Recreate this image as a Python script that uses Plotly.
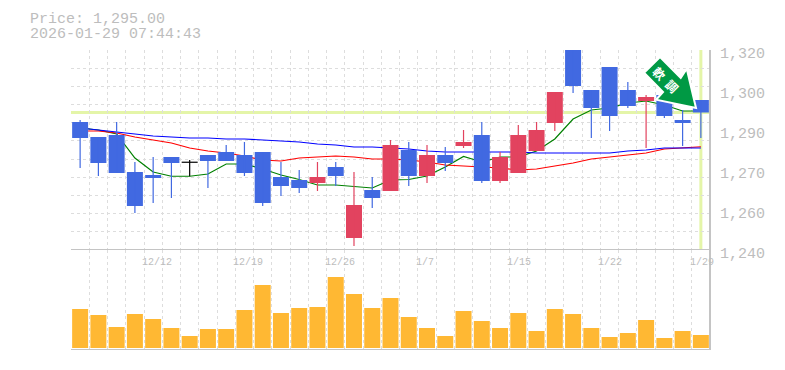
import plotly.graph_objects as go

# Candles (price units). Index 6 is the black doji.
opens  = [1291.2,1285.2,1286,1271.2,1270,1277.2,1275.1,1278,1279.2,1278,1279.2,1269.2,
          1268,1266.8,1273.2,1244.8,1264,1263.6,1280,1269.6,1278,1281.6,1286,1267.6,
          1270.8,1279.6,1290.8,1322,1304,1313.2,1304,1299.6,1302,1292,1300]
closes = [1284.8,1274.8,1270.8,1257.6,1268.8,1274.8,1275.1,1275.6,1275.6,1270.8,1258.8,1265.6,
          1264.8,1269.2,1269.6,1258,1260.8,1282,1269.6,1278,1274.8,1283.2,1267.6,1277.2,
          1286,1288,1303.2,1305.6,1296.8,1293.6,1297.6,1301.2,1293.6,1290.8,1295]
highs  = [1292,1285.2,1291.2,1275.2,1277.2,1277.2,1276,1278,1282,1283.2,1279.2,1275.2,
          1272,1275.2,1275.2,1271.2,1269.2,1284,1283.2,1282,1281.2,1288,1291.2,1279.2,
          1290,1291.2,1303.2,1322,1304,1313.2,1307.2,1302,1302,1296,1300]
lows   = [1272.8,1269.6,1270.8,1254.8,1258.8,1260.8,1269.5,1264.8,1275.6,1269.6,1257.6,1261.6,
          1262.8,1263.6,1265.6,1241.6,1256.8,1263.6,1265.6,1266.8,1271.6,1280.8,1266.8,1266.8,
          1270.8,1279.6,1287.6,1302.8,1284.8,1287.6,1296.8,1280.8,1292.8,1281.6,1284.8]
doji_index = 6

ma_short = [1288.8,1288,1286.4,1276.8,1271.2,1269.5,1269.5,1270.4,1274.4,1274.4,1272.4,1270,
            1268.2,1266,1266,1265.3,1264.8,1268,1268.2,1269.6,1273.2,1277.4,1275.2,1277.2,
            1277.2,1279.6,1284.4,1292.4,1296,1296.8,1298.8,1299.6,1298,1295.6,1295.6]
ma_mid   = [1287.6,1287.6,1286.8,1285.2,1284,1282.8,1280.8,1279.6,1278.8,1277.6,1276,1275.6,
            1276.8,1277.2,1277.6,1277.2,1276.4,1276.4,1276,1275.2,1274,1273.6,1273.2,1272.8,
            1272,1272.4,1273.6,1274.8,1276.4,1277.2,1278,1278.8,1280.4,1280.8,1281.3]
ma_long  = [1288.8,1288,1287.2,1286.4,1285.6,1285.2,1284.8,1284.8,1284.4,1284.4,1284,1283.6,
            1283.2,1282.4,1282,1281.2,1281.2,1280.8,1280.4,1279.6,1279.2,1279.2,1279.2,1279.2,
            1279.2,1278.8,1278.8,1278.8,1278.8,1278.8,1279.6,1280,1280.8,1280.8,1280.8]
volumes  = [39,33,21,34,29,20,12,19,19,38,63,35,40,41,71,54,40,50,31,20,12,37,27,20,35,17,39,34,20,11,15,28,10,17,13]

date_tick_index = [4,9,14,19,24,29,34]
date_tick_text  = ["12/12","12/19","12/26","1/7","1/15","1/22","1/29"]
price_tick_vals = [1320,1304,1288,1272,1256,1240]
price_tick_text = ["1,320","1,300","1,290","1,270","1,260","1,240"]
title_lines = ["Price: 1,295.00","2026-01-29 07:44:43"]
last_price = 1295.00
arrow_label = "<b>軟\u2002調</b>"

BLUE, RED = "#4169E1", "#E2435F"
GRID, AXIS, LABEL = "#DDDDDD", "#C4C4C4", "#BDBDBD"
HILITE = "#E4F5A8"
MONO = "Liberation Mono"
xs = list(range(len(opens)))

fig = go.Figure()
for vals, col in ((ma_short,"#008000"),(ma_mid,"#FF0000"),(ma_long,"#0000FF")):
    fig.add_trace(go.Scatter(x=xs,y=vals,mode="lines",line=dict(color=col,width=1.2),xaxis="x",yaxis="y"))

BODY = 0.876
def candle_group(idx, color):
    wx, wy = [], []
    for i in idx:
        wx += [i,i,None]; wy += [lows[i],highs[i],None]
    fig.add_trace(go.Scatter(x=wx,y=wy,mode="lines",line=dict(color=color,width=1.2),xaxis="x",yaxis="y3"))
    if i != doji_index:
        fig.add_trace(go.Bar(x=idx,y=[abs(closes[j]-opens[j]) for j in idx],base=[min(closes[j],opens[j]) for j in idx],
                             width=BODY,marker=dict(color=color,line_width=0),xaxis="x",yaxis="y3"))

up   = [i for i in xs if closes[i] > opens[i]]
down = [i for i in xs if closes[i] < opens[i]]
candle_group(down, BLUE)
candle_group(up, RED)
candle_group([doji_index], "#000000")
fig.add_trace(go.Scatter(x=[doji_index-BODY/2,doji_index+BODY/2],y=[opens[doji_index],closes[doji_index]],mode="lines",
                         line=dict(color="#000000",width=1.2),xaxis="x",yaxis="y3"))
fig.add_trace(go.Bar(x=xs,y=volumes,marker=dict(color="#FFB833",line_width=0),width=BODY,xaxis="x2",yaxis="y2"))

xrange = [-0.5,len(xs)-0.5]
dash_axis = dict(showgrid=True,gridcolor=GRID,griddash="3px,3px",gridwidth=1,zeroline=False,showticklabels=False,ticks="")
PX = 70.5; W = 639.5; PT = 50; PH = 300
fig.update_layout(
    width=785,height=370,margin=dict(l=70.5,r=75,t=50,b=20),
    paper_bgcolor="white",plot_bgcolor="white",showlegend=False,barmode="overlay",
    xaxis=dict(domain=[0,1],range=xrange,tick0=-0.5,dtick=1,anchor="y",**dash_axis),
    xaxis2=dict(domain=[0,1],range=xrange,tick0=-0.5,dtick=1,anchor="y2",matches="x",**dash_axis),
    yaxis=dict(domain=[1/3,1],range=[1240,1320],tick0=1240,dtick=80/11,anchor="x",**dash_axis),
    yaxis3=dict(domain=[1/3,1],range=[1240,1320],overlaying="y",anchor="x",showgrid=False,zeroline=False,showticklabels=False),
    yaxis2=dict(domain=[0,1/3],range=[-2,98],anchor="x2",showgrid=False,zeroline=False,showticklabels=False),
)
below = dict(layer="below")
fig.add_shape(type="line",xref="paper",x0=0,x1=1,yref="y",y0=last_price,y1=last_price,line=dict(color=HILITE,width=3),**below)
fig.add_shape(type="line",xref="x",x0=xs[-1],x1=xs[-1],yref="y",y0=1240,y1=1320,line=dict(color=HILITE,width=3),**below)
for y0,yr in ((1240,"y"),(-2,"y2")):
    fig.add_shape(type="line",xref="paper",x0=0,x1=1,yref=yr,y0=y0,y1=y0,line=dict(color=AXIS,width=2))
fig.add_shape(type="line",xref="paper",x0=1,x1=1,yref="paper",y0=0,y1=1,line=dict(color=AXIS,width=2))

for v,t in zip(price_tick_vals,price_tick_text):
    fig.add_annotation(text=t,xref="paper",x=1,yref="y",y=v,xanchor="left",yanchor="middle",xshift=8,yshift=-4,
        showarrow=False,font=dict(family=MONO,size=15,color=LABEL))
for i,t in zip(date_tick_index,date_tick_text):
    fig.add_annotation(text=t,xref="x",x=i-0.5,yref="paper",y=1/3,xanchor="left",yanchor="middle",yshift=-12.5,xshift=-4,
        showarrow=False,font=dict(family=MONO,size=10,color=LABEL))
for n,t in enumerate(title_lines):
    fig.add_annotation(text=t,xref="paper",x=0,xshift=-43.5,yref="paper",y=1,yshift=31-15*n,xanchor="left",yanchor="middle",
        showarrow=False,font=dict(family=MONO,size=15,color=LABEL))

def px(x): return (x-PX)/W
def py(y): return 1-(y-PT)/PH
arrow_pts = [(660,57),(644,72.7),(663,92),(656,99.7),(696,108),(686.7,68.7),(680.7,78)]
path = "M "+" L ".join(f"{px(x):.4f} {py(y):.4f}" for x,y in arrow_pts)+" Z"
fig.add_shape(type="path",xref="paper",yref="paper",path=path,fillcolor="#009944",line=dict(color="white",width=2))
fig.add_annotation(text=arrow_label,xref="paper",yref="paper",x=px(666),y=py(79.5),xanchor="center",yanchor="middle",
    textangle=45,showarrow=False,font=dict(family="Noto Sans CJK JP",size=12,color="white"))

fig.write_html("out.html",post_script="document.body.style.margin='0';",config={"displayModeBar":False})
